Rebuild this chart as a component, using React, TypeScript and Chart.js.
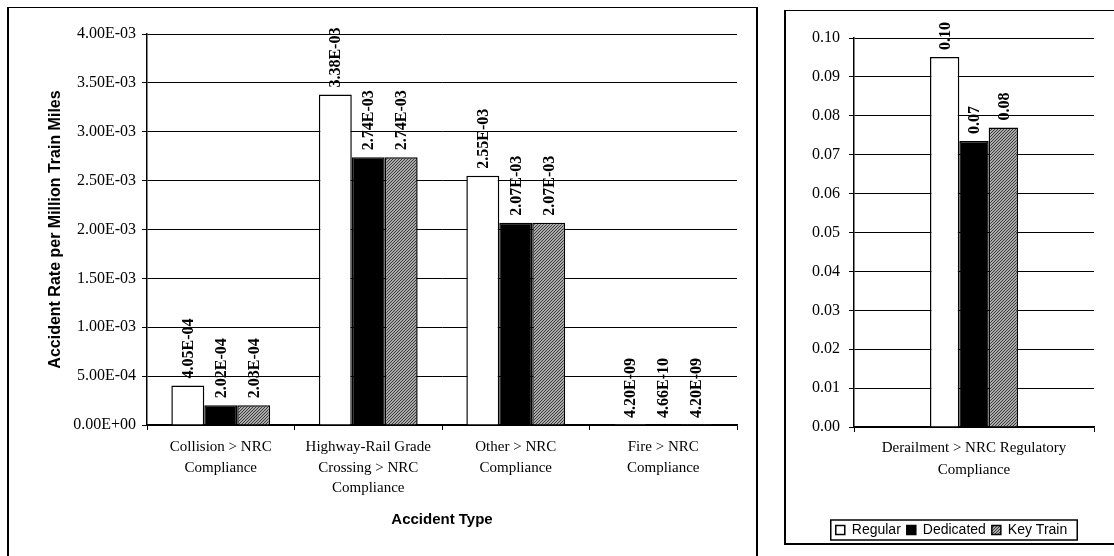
import React, { useEffect, useRef } from 'react';
import { Chart, registerables } from 'chart.js';

Chart.register(...registerables);

// ---------- data ----------
const seriesNames = ['Regular', 'Dedicated', 'Key Train'];

const leftCategories = [
  ['Collision > NRC', 'Compliance'],
  ['Highway-Rail Grade', 'Crossing > NRC', 'Compliance'],
  ['Other > NRC', 'Compliance'],
  ['Fire > NRC', 'Compliance'],
];
const leftRegular = [4.05e-4, 3.38e-3, 2.55e-3, 4.2e-9];
const leftDedicated = [2.02e-4, 2.74e-3, 2.07e-3, 4.66e-10];
const leftKeyTrain = [2.03e-4, 2.74e-3, 2.07e-3, 4.2e-9];
const leftYMin = 0;
const leftYMax = 0.004;
const leftYStep = 0.0005;
const leftYTitle = 'Accident Rate per Million Train Miles';
const leftXTitle = 'Accident Type';

const rightCategories = [['Derailment > NRC Regulatory', 'Compliance']];
const rightRegular = [0.0951];
const rightDedicated = [0.0735];
const rightKeyTrain = [0.077];
const rightYMin = 0;
const rightYMax = 0.1;
const rightYStep = 0.01;

// ---------- helpers ----------
const serif = '"Liberation Serif", "Times New Roman", serif';
const sans = '"Liberation Sans", Arial, sans-serif';

function sci(v: number): string {
  const [m, e] = Number(v).toExponential(2).split('e');
  const n = parseInt(e, 10);
  return m + 'E' + (n < 0 ? '-' : '+') + String(Math.abs(n)).padStart(2, '0');
}
function fixed2(v: number): string {
  return Number(v).toFixed(2);
}

function makeHatch(): CanvasPattern | string {
  const c = document.createElement('canvas');
  c.width = 3;
  c.height = 3;
  const g = c.getContext('2d');
  if (!g) return '#888';
  g.fillStyle = '#a9a9a9';
  g.fillRect(0, 0, 3, 3);
  g.fillStyle = '#3c3c3c';
  for (let i = 0; i < 3; i++) g.fillRect(i, 2 - i, 1, 1);
  return g.createPattern(c, 'repeat') || '#888';
}

function makeDatasets(reg: number[], ded: number[], key: number[], hatch: any) {
  return [
    { label: seriesNames[0], data: reg, backgroundColor: '#ffffff', borderColor: '#000', borderWidth: 1.5 },
    { label: seriesNames[1], data: ded, backgroundColor: '#000000', borderColor: '#000', borderWidth: 1.5 },
    { label: seriesNames[2], data: key, backgroundColor: hatch, borderColor: '#000', borderWidth: 1.5 },
  ];
}

function barLabels(fmt: (v: number) => string) {
  return {
    id: 'barLabels',
    afterDatasetsDraw(chart: any) {
      const ctx = chart.ctx;
      ctx.save();
      ctx.font = 'bold 16px ' + serif;
      ctx.fillStyle = '#000';
      ctx.textAlign = 'left';
      ctx.textBaseline = 'middle';
      chart.data.datasets.forEach((ds: any, i: number) => {
        const meta = chart.getDatasetMeta(i);
        meta.data.forEach((bar: any, j: number) => {
          ctx.save();
          ctx.translate(bar.x + 1, bar.y - 7);
          ctx.rotate(-Math.PI / 2);
          ctx.fillText(fmt(ds.data[j]), 0, 0);
          ctx.restore();
        });
      });
      ctx.restore();
    },
  };
}

const legendBorder = {
  id: 'legendBorder',
  afterDraw(chart: any) {
    const lg = chart.legend;
    if (!lg || !lg.legendHitBoxes || !lg.legendHitBoxes.length) return;
    const hb = lg.legendHitBoxes;
    const last = hb[hb.length - 1];
    const x0 = hb[0].left - 5;
    const x1 = last.left + last.width + 10;
    const yc = hb[0].top + hb[0].height / 2;
    const ctx = chart.ctx;
    ctx.save();
    ctx.strokeStyle = '#000';
    ctx.lineWidth = 1.5;
    ctx.strokeRect(x0, yc - 10, x1 - x0, 20);
    ctx.restore();
  },
};

function leftConfig(): any {
  const hatch = makeHatch();
  return {
    type: 'bar',
    data: { labels: leftCategories, datasets: makeDatasets(leftRegular, leftDedicated, leftKeyTrain, hatch) },
    options: {
      responsive: false,
      animation: false,
      devicePixelRatio: 1,
      layout: { padding: { left: 0, right: 23, top: 34, bottom: 0 } },
      datasets: { bar: { categoryPercentage: 0.67, barPercentage: 1 } },
      plugins: { legend: { display: false }, tooltip: { enabled: false } },
      scales: {
        x: {
          grid: { display: true, drawOnChartArea: false, drawTicks: true, tickLength: 5, color: '#000', lineWidth: 1, offset: true },
          border: { display: true, color: '#000', width: 1.5 },
          ticks: { font: { family: serif, size: 15, lineHeight: 1.37 }, color: '#000', padding: 7, autoSkip: false, maxRotation: 0, minRotation: 0 },
          title: { display: true, text: leftXTitle, font: { family: sans, size: 15, weight: 'bold' }, color: '#000', padding: { top: 0, bottom: 27 } },
          afterFit: (s: any) => { s.height = 131; },
        },
        y: {
          min: leftYMin,
          max: leftYMax,
          ticks: { stepSize: leftYStep, callback: (v: any) => sci(Number(v)), font: { family: serif, size: 16 }, color: '#000', padding: 6 },
          grid: { color: '#000', lineWidth: 1, tickLength: 5, drawTicks: true },
          border: { display: true, color: '#000', width: 1.5 },
          title: { display: true, text: leftYTitle, font: { family: sans, size: 16, weight: 'bold' }, color: '#000', padding: { top: 46, bottom: 0 } },
          afterFit: (s: any) => { s.width = 147; },
        },
      },
    },
    plugins: [barLabels(sci)],
  };
}

function rightConfig(): any {
  const hatch = makeHatch();
  return {
    type: 'bar',
    data: { labels: rightCategories, datasets: makeDatasets(rightRegular, rightDedicated, rightKeyTrain, hatch) },
    options: {
      responsive: false,
      animation: false,
      devicePixelRatio: 1,
      layout: { padding: { left: 24, right: 20, top: 38, bottom: 9 } },
      datasets: { bar: { categoryPercentage: 0.367, barPercentage: 1 } },
      plugins: {
        tooltip: { enabled: false },
        legend: {
          display: true,
          position: 'bottom',
          labels: { boxWidth: 9, boxHeight: 9, padding: 6, color: '#000', font: { family: sans, size: 14 } },
        },
      },
      scales: {
        x: {
          grid: { display: true, drawOnChartArea: false, drawTicks: true, tickLength: 5, color: '#000', lineWidth: 1, offset: true },
          border: { display: true, color: '#000', width: 1.5 },
          ticks: { font: { family: serif, size: 15, lineHeight: 1.45 }, color: '#000', padding: 5, autoSkip: false, maxRotation: 0, minRotation: 0 },
          afterFit: (s: any) => { s.height = 90; },
        },
        y: {
          min: rightYMin,
          max: rightYMax,
          ticks: { stepSize: rightYStep, callback: (v: any) => fixed2(Number(v)), font: { family: serif, size: 16 }, color: '#000', padding: 9 },
          grid: { color: '#000', lineWidth: 1, tickLength: 5, drawTicks: true },
          border: { display: true, color: '#000', width: 1.5 },
          afterFit: (s: any) => { s.width = 45; },
        },
      },
    },
    plugins: [barLabels(fixed2), legendBorder],
  };
}

function ChartCanvas(props: { make: () => any; left: number; top: number; width: number; height: number }) {
  const ref = useRef<HTMLCanvasElement | null>(null);
  useEffect(() => {
    if (!ref.current) return;
    const chart = new Chart(ref.current, props.make());
    return () => chart.destroy();
  }, []);
  return (
    <canvas
      ref={ref}
      width={props.width}
      height={props.height}
      style={{ position: 'absolute', left: props.left, top: props.top, width: props.width, height: props.height }}
    />
  );
}

export default function App() {
  return (
    <div style={{ position: 'absolute', left: 0, top: 0, width: 1114, height: 556, overflow: 'hidden', background: '#fff' }}>
      <div
        style={{
          position: 'absolute', left: 7, top: 7, width: 747, height: 560,
          borderTop: '1px solid #000', borderLeft: '2px solid #000', borderRight: '2px solid #000',
        }}
      />
      <div
        style={{
          position: 'absolute', left: 784, top: 10, width: 340, height: 532,
          borderTop: '1px solid #000', borderLeft: '2px solid #000', borderBottom: '2px solid #000',
        }}
      />
      <ChartCanvas make={leftConfig} left={0} top={0} width={760} height={556} />
      <ChartCanvas make={rightConfig} left={785} top={0} width={329} height={556} />
    </div>
  );
}
